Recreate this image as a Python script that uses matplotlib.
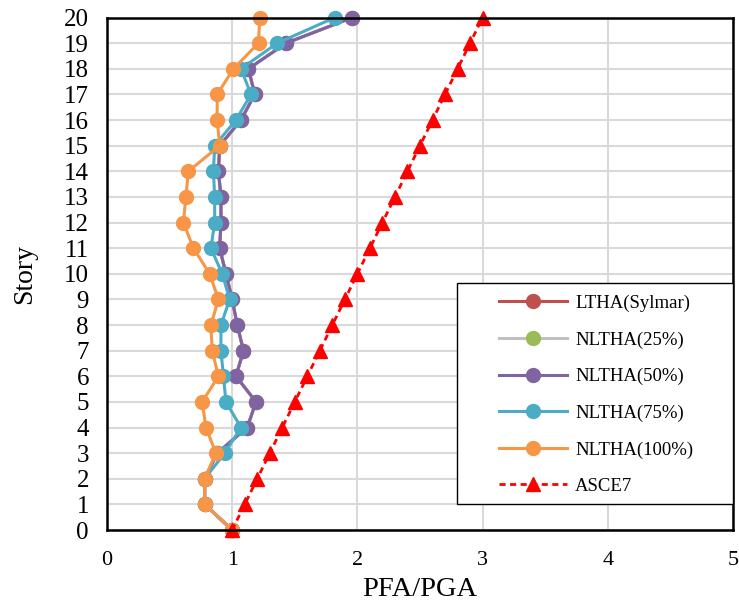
import matplotlib
matplotlib.use("Agg")
import matplotlib.pyplot as plt
from matplotlib.patches import Rectangle

plt.rcParams['font.family'] = ['Liberation Serif', 'DejaVu Serif']

stories = list(range(0, 21))

ltha_sylmar = [1.00, 0.78, 0.78, 0.88, 1.12, 1.19, 1.03, 1.09, 1.04, 1.00, 0.95,
               0.90, 0.91, 0.91, 0.89, 0.90, 1.07, 1.18, 1.13, 1.43, 1.96]
nltha_25 = [1.00, 0.78, 0.78, 0.88, 1.12, 1.19, 1.03, 1.09, 1.04, 1.00, 0.95,
            0.90, 0.91, 0.91, 0.89, 0.90, 1.07, 1.18, 1.13, 1.43, 1.96]
nltha_50 = [1.00, 0.78, 0.78, 0.88, 1.12, 1.19, 1.03, 1.09, 1.04, 1.00, 0.95,
            0.90, 0.91, 0.91, 0.89, 0.90, 1.07, 1.18, 1.13, 1.43, 1.96]
nltha_75 = [1.00, 0.78, 0.78, 0.94, 1.07, 0.95, 0.93, 0.91, 0.91, 0.98, 0.92,
            0.83, 0.86, 0.86, 0.85, 0.86, 1.03, 1.15, 1.07, 1.36, 1.82]
nltha_100 = [1.00, 0.78, 0.78, 0.87, 0.79, 0.76, 0.89, 0.84, 0.83, 0.89, 0.82,
             0.69, 0.61, 0.63, 0.65, 0.90, 0.88, 0.88, 1.01, 1.21, 1.22]
asce7 = [1.0, 1.1, 1.2, 1.3, 1.4, 1.5, 1.6, 1.7, 1.8, 1.9, 2.0,
         2.1, 2.2, 2.3, 2.4, 2.5, 2.6, 2.7, 2.8, 2.9, 3.0]

fig = plt.figure(figsize=(7.39, 6.02), dpi=100)
ax = fig.add_axes([0.1448, 0.1196, 0.8471, 0.8513])

lw = 2.2
ms = 10
common = dict(lw=lw, marker='o', ms=ms, clip_on=False, zorder=3)
ax.plot(ltha_sylmar, stories, color='#C0504D', label='LTHA(Sylmar)', **common)
ax.plot(nltha_25, stories, color='#BFBFBF', mfc='#9BBB59', mec='#9BBB59',
        label='NLTHA(25%)', **common)
ax.plot(nltha_50, stories, color='#8064A2', label='NLTHA(50%)', **common)
ax.plot(nltha_75, stories, color='#4BACC6', label='NLTHA(75%)', **common)
ax.plot(nltha_100, stories, color='#F79646', label='NLTHA(100%)', **common)
ax.plot(asce7, stories, color='#FF0000', lw=2.0, ls=(0, (2.2, 1.6)),
        marker='^', ms=10, label='ASCE7', clip_on=False, zorder=4)

ax.set_xlim(0, 5)
ax.set_ylim(0, 20)
ax.set_xticks(range(0, 6))
ax.set_yticks(range(0, 21))
ax.grid(True, color='#D9D9D9', lw=1.5)
ax.set_axisbelow(True)
ax.tick_params(axis='x', length=0, labelsize=16, pad=15)
ax.tick_params(axis='y', length=0, labelsize=18, pad=13)
for side in ['left', 'bottom', 'top', 'right']:
    ax.spines[side].set_linewidth(1.8)
    ax.spines[side].set_color('black')
    ax.spines[side].set_zorder(5)

ax.set_xlabel('PFA/PGA', fontsize=20.5, labelpad=5)
ax.set_ylabel('Story', fontsize=20, labelpad=19)

# legend box drawn separately so the entries can sit with wide side margins
frame = Rectangle((0.5586, 0.0507), 0.4414, 0.4318, transform=ax.transAxes,
                  facecolor='white', edgecolor='black', lw=1.0, zorder=6,
                  clip_on=False)
ax.add_patch(frame)
leg = ax.legend(loc='upper left', bbox_to_anchor=(0.6262, 0.4591),
                fontsize=13.5, handlelength=3.63, labelspacing=1.03,
                borderpad=0, borderaxespad=0, handletextpad=0.43,
                frameon=False)
leg.set_zorder(7)

fig.savefig('out.png', dpi=100)
